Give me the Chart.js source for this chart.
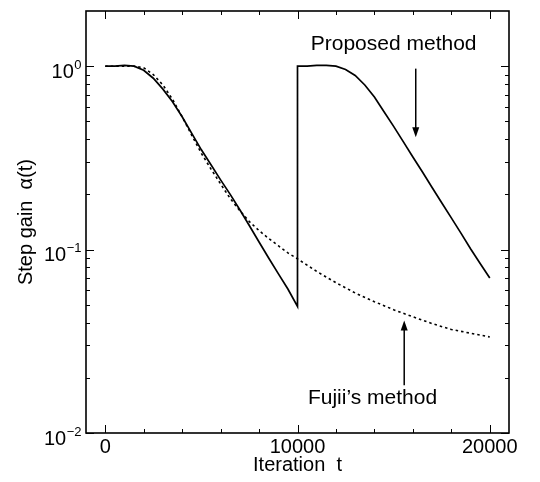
<!DOCTYPE html>
<html><head><meta charset="utf-8">
<script src="https://cdn.jsdelivr.net/npm/chart.js@4"></script>
<style>html,body{margin:0;padding:0;background:#fff}canvas{display:block}</style>
</head><body>
<canvas id="c" width="540" height="482"></canvas>
<script>
// ---- data ----
const propT = [0,500,1000,1500,2000,2500,3000,3500,4000,4500,5000,5500,6000,6500,7000,7500,8000,8500,9000,9500,10000,
               10000,10500,11000,11500,12000,12500,13000,13500,14000,14500,15000,15500,16000,16500,17000,17500,18000,18500,19000,19500,20000];
const propV = [1.0,1.0,1.01,1.0,0.95,0.86,0.75,0.64,0.53,0.43,0.35,0.29,0.24,0.2,0.165,0.135,0.11,0.09,0.074,0.061,0.049,
               1.0,1.0,1.01,1.01,1.0,0.96,0.89,0.79,0.68,0.565,0.47,0.388,0.32,0.265,0.218,0.18,0.149,0.123,0.101,0.084,0.07];
const fujT = [0,500,1000,1500,2000,2500,3000,3500,4000,4500,5000,5500,6000,6500,7000,7500,8000,8500,9000,9500,10000,
              11000,12000,13000,14000,15000,16000,17000,18000,19000,20000];
const fujV = [1.0,1.0,1.0,1.0,0.98,0.9,0.79,0.66,0.53,0.42,0.335,0.275,0.228,0.19,0.163,0.142,0.127,0.115,0.105,0.096,0.089,
              0.076,0.066,0.058,0.052,0.047,0.043,0.0395,0.0367,0.035,0.0334];
const xTicks = [0,2000,4000,6000,8000,10000,12000,14000,16000,18000,20000];
const xLabeled = [0,10000,20000];
const yMajor = [0.01,0.1,1];
const yExp = ['\u22122','\u22121','0'];
const yMinor = [0.02,0.03,0.04,0.05,0.06,0.07,0.08,0.09,0.2,0.3,0.4,0.5,0.6,0.7,0.8,0.9,2];
const annProposed = {text:'Proposed method', t:15000, v:1.23, arrowT:16150, arrowFrom:0.97, arrowTo:0.41};
const annFujii = {text:'Fujii\u2019s method', t:13900, v:0.01433, arrowT:15550, arrowFrom:0.0182, arrowTo:0.041};

const FONT = "'Liberation Sans', Arial, Helvetica, sans-serif";
Chart.defaults.color = '#000';
Chart.defaults.font.family = FONT;

const toPts = (T,V) => T.map((t,i)=>({x:t,y:V[i]}));

function arrow(ctx, x, y1, y2){
  ctx.beginPath(); ctx.moveTo(x,y1); ctx.lineTo(x, y2 + (y2>y1?-9:9)); ctx.stroke();
  const d = y2>y1?1:-1;
  ctx.beginPath(); ctx.moveTo(x,y2); ctx.lineTo(x-3.5,y2-d*10); ctx.lineTo(x+3.5,y2-d*10); ctx.closePath(); ctx.fill();
}

const decor = {
  id:'decor',
  beforeDraw(chart){ const c=chart.ctx; c.save(); c.fillStyle='#fff'; c.fillRect(0,0,chart.width,chart.height); c.restore(); },
  afterDatasetsDraw(chart){
    const {ctx, chartArea:a, scales:{x,y}} = chart;
    ctx.save();
    ctx.strokeStyle='#000'; ctx.fillStyle='#000';
    ctx.lineWidth=1.6;
    ctx.strokeRect(a.left,a.top,a.right-a.left,a.bottom-a.top);
    ctx.lineWidth=1;
    ctx.beginPath();
    xTicks.forEach(v=>{
      const px=Math.round(x.getPixelForValue(v))+0.5; const L = xLabeled.includes(v)?8:4;
      ctx.moveTo(px,a.bottom); ctx.lineTo(px,a.bottom-L);
      ctx.moveTo(px,a.top); ctx.lineTo(px,a.top+L);
    });
    yMajor.concat(yMinor).forEach(v=>{
      if (v>=2) return;
      const py=Math.round(y.getPixelForValue(v))+0.5; const L = yMajor.includes(v)?8:4;
      ctx.moveTo(a.left,py); ctx.lineTo(a.left+L,py);
      ctx.moveTo(a.right,py); ctx.lineTo(a.right-L,py);
    });
    ctx.stroke();
    // y tick labels 10^n
    yMajor.forEach((v,i)=>{
      const py = y.getPixelForValue(v);
      ctx.font = '20px '+FONT;
      const wb = ctx.measureText('10').width;
      ctx.font = '13px '+FONT;
      const we = ctx.measureText(yExp[i]).width;
      const x0 = a.left - 5 - wb - we;
      ctx.textBaseline='alphabetic'; ctx.textAlign='left';
      ctx.font = '20px '+FONT; ctx.fillText('10', x0, py+11.5);
      ctx.font = '13px '+FONT; ctx.fillText(yExp[i], x0+wb+0.5, py+2.5);
    });
    // annotations
    ctx.lineWidth=1.5;
    ctx.font = '21px '+FONT; ctx.textAlign='center'; ctx.textBaseline='alphabetic';
    [annProposed, annFujii].forEach(an=>{
      ctx.fillText(an.text, x.getPixelForValue(an.t), y.getPixelForValue(an.v));
      const ax = x.getPixelForValue(an.arrowT);
      arrow(ctx, ax, y.getPixelForValue(an.arrowFrom), y.getPixelForValue(an.arrowTo));
    });
    ctx.restore();
  }
};

new Chart(document.getElementById('c'), {
  type:'line',
  data:{datasets:[
    {label:'Proposed method', data:toPts(propT,propV), borderColor:'#000', borderWidth:1.7, pointRadius:0, tension:0, fill:false},
    {label:'Fujii\u2019s method', data:toPts(fujT,fujV), borderColor:'#000', borderWidth:1.6, borderDash:[2.5,3], pointRadius:0, tension:0, fill:false}
  ]},
  options:{
    responsive:false, devicePixelRatio:1, animation:false,
    layout:{padding:{left:0,right:31,top:11,bottom:0}},
    plugins:{legend:{display:false}, tooltip:{enabled:false}},
    scales:{
      x:{type:'linear', min:-1000, max:21000,
         grid:{display:false, drawTicks:false}, border:{display:false},
         afterBuildTicks:(s)=>{ s.ticks = xTicks.map(v=>({value:v})); },
         ticks:{autoSkip:false, maxRotation:0, padding:2, font:{size:20},
                callback:(v)=> xLabeled.includes(v) ? String(v) : ''},
         title:{display:true, text:'Iteration  t', font:{size:20}, padding:{top:0,bottom:5}},
         afterFit:(s)=>{ s.height = 49; s.paddingLeft=0; s.paddingRight=0; }
      },
      y:{type:'logarithmic', min:0.01, max:2,
         grid:{display:false, drawTicks:false}, border:{display:false},
         ticks:{display:false},
         title:{display:true, text:'Step gain  \u03b1(t)', font:{size:20}, padding:{top:14,bottom:0}},
         afterFit:(s)=>{ s.width = 86; s.paddingTop=0; s.paddingBottom=0; }
      }
    }
  },
  plugins:[decor]
});
</script>
</body></html>
